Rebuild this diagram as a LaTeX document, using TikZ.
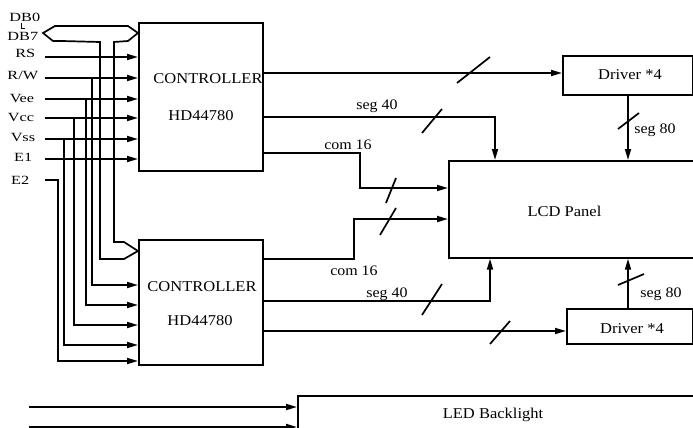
\documentclass[tikz,border=0pt]{standalone}
\usepackage{fontspec}
\setmainfont{Liberation Serif}[FakeStretch=1.1]
\newfontfamily\lblfont{Liberation Serif}[FakeStretch=1.3]
\usetikzlibrary{arrows.meta}
\begin{document}
\begin{tikzpicture}[x=1pt,y=-1pt,
  line width=1.7pt,
  arr/.style={-{Triangle[length=11pt,width=6pt]}},
  box/.style={draw,line width=1.7pt,anchor=north west,inner sep=0pt},
  lbl/.style={inner sep=0pt,anchor=base east,font=\lblfont\fontsize{12.5}{14}\selectfont},
  txt/.style={inner sep=0pt,anchor=base,font=\fontsize{15}{18}\selectfont},
  sm/.style={inner sep=0pt,anchor=base,font=\fontsize{14.5}{17}\selectfont},
  slash/.style={line width=1.7pt}]
\useasboundingbox (0,0) rectangle (693,428);

% boxes
\node[box,minimum width=124pt,minimum height=148pt] (c1) at (138,22) {};
\node[box,minimum width=124pt,minimum height=125pt] (c2) at (138,239) {};
\node[box,minimum width=130pt,minimum height=39pt] (d1) at (562,55) {};
\node[box,minimum width=126pt,minimum height=35pt] (d2) at (566,308) {};
\node[box,minimum width=270pt,minimum height=97pt] (lcd) at (448,160) {};
\node[box,minimum width=420pt,minimum height=60pt] (led) at (297,395) {};

% box texts
\node[txt] (c1a) at (208,83) {CONTROLLER};
\node[txt] (c1b) at (201,120) {HD44780};
\node[txt] (c2a) at (202,291) {CONTROLLER};
\node[txt] (c2b) at (200,325) {HD44780};
\node[txt] (d1t) at (630,79) {Driver *4};
\node[txt] (d2t) at (632,333) {Driver *4};
\node[txt] (lcdt) at (564.5,216) {LCD Panel};
\node[txt] (ledt) at (493,418) {LED Backlight};

% left labels
\node[lbl] (ldb0) at (41,22) {DB0};
\node[lbl] (ldb7) at (39,41) {DB7};
\node[lbl] (lrs) at (36,57) {RS};
\node[lbl] (lrw) at (39,80) {R/W};
\node[lbl] (lvee) at (35,102) {Vee};
\node[lbl] (lvcc) at (35,121) {Vcc};
\node[lbl] (lvss) at (36,141) {Vss};
\node[lbl] (le1) at (33,161) {E1};
\node[lbl] (le2) at (30,184) {E2};
\draw[line width=1.2pt] (21.5,23) -- (21.5,28.5) -- (24.5,28.5);

% data bus
\draw[line join=miter]
  (43,33) -- (55,26) -- (128,26) -- (c1.west |- 0,33) -- (128,41) -- (114,42)
  -- (114,242) -- (124,242) -- (c2.west |- 0,251) -- (124,259) -- (100,259)
  -- (100,42) -- (62,41) -- (53,41) -- cycle;

% input lines
\coordinate (rs0) at (45,57);
\coordinate (rw0) at (45,78);
\coordinate (vee0) at (45,99);
\coordinate (vcc0) at (45,118);
\coordinate (vss0) at (45,139);
\coordinate (e10) at (45,159);
\coordinate (e20) at (45,180);
\draw[arr] (rs0) -- (rs0 -| c1.west);
\draw[arr] (rw0) -- (rw0 -| c1.west);
\draw[arr] (vee0) -- (vee0 -| c1.west);
\draw[arr] (vcc0) -- (vcc0 -| c1.west);
\draw[arr] (vss0) -- (vss0 -| c1.west);
\draw[arr] (e10) -- (e10 -| c1.west);
\draw[arr] (92,78) -- (92,285) -- (c2.west |- 0,285);
\draw[arr] (86,99) -- (86,305) -- (c2.west |- 0,305);
\draw[arr] (74,118) -- (74,325) -- (c2.west |- 0,325);
\draw[arr] (64,139) -- (64,345) -- (c2.west |- 0,345);
\draw[arr] (e20) -- (58,180) -- (58,361) -- (c2.west |- 0,361);

% controller 1 outputs
\draw[arr] (c1.east |- 0,73) -- (d1.west |- 0,73);
\draw[arr] (c1.east |- 0,117) -- (495,117) -- (lcd.north -| 495,0);
\draw[arr] (c1.east |- 0,153) -- (360,153) -- (360,188) -- (lcd.west |- 0,188);
\draw[arr] (d1.south -| 628,0) -- (lcd.north -| 628,0);
% controller 2 outputs
\draw[arr] (c2.east |- 0,259) -- (354,259) -- (354,219) -- (lcd.west |- 0,219);
\draw[arr] (c2.east |- 0,301) -- (490,301) -- (lcd.south -| 490,0);
\draw[arr] (c2.east |- 0,331) -- (d2.west |- 0,331);
\draw[arr] (d2.north -| 628,0) -- (lcd.south -| 628,0);
% backlight
\coordinate (bl1) at (29,407);
\coordinate (bl2) at (29,427);
\draw[arr] (bl1) -- (bl1 -| led.west);
\draw[arr] (bl2) -- (bl2 -| led.west);

% bus slashes
\draw[slash] (457,83) -- (490,57);
\draw[slash] (422,133) -- (442,109);
\draw[slash] (386,203) -- (396,178);
\draw[slash] (380,235) -- (396,208);
\draw[slash] (422,315) -- (442,284);
\draw[slash] (490,344) -- (510,321);
\draw[slash] (618,129) -- (639,113);
\draw[slash] (618,285) -- (644,274);

% connector labels
\node[sm] (s40a) at (377,109) {seg 40};
\node[sm] (c16a) at (348,149) {com 16};
\node[sm] (c16b) at (354,275) {com 16};
\node[sm] (s40b) at (387,297) {seg 40};
\node[sm] (s80a) at (655,133) {seg 80};
\node[sm] (s80b) at (661,297) {seg 80};
\end{tikzpicture}
\end{document}
